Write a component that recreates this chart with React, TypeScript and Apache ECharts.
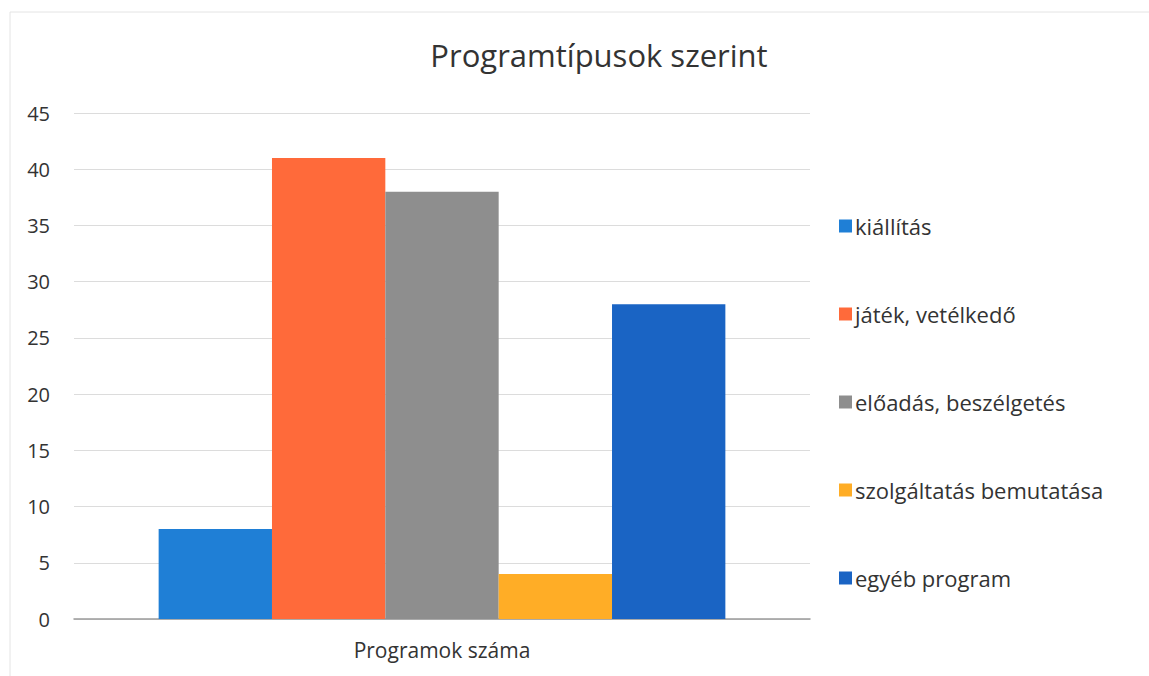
import React, { useEffect, useRef } from "react";
import * as echarts from "echarts";

const categories = ["Programok száma"];
const seriesNames = ["kiállítás", "játék, vetélkedő", "előadás, beszélgetés", "szolgáltatás bemutatása", "egyéb program"];
const seriesValues = [8, 41, 38, 4, 28];
const seriesColors = ["#1f7fd6", "#ff6a3a", "#8e8e8e", "#ffad26", "#1a64c4"];
const yTicks = { min: 0, max: 45, interval: 5 };

export default function App() {
  const ref = useRef<HTMLDivElement>(null);
  useEffect(() => {
    document.body.style.margin = "0";
    const chart = echarts.init(ref.current!, null, { renderer: "svg" });
    const font = "'Open Sans', 'Noto Sans', sans-serif";
    chart.setOption({
      animation: false,
      backgroundColor: "#ffffff",
      title: {
        text: "Programtípusok szerint",
        left: 594,
        top: 34,
        textAlign: "center",
        textStyle: { fontFamily: font, fontSize: 31, fontWeight: "normal", color: "#333333" },
      },
      graphic: [
        {
          type: "rect",
          shape: { x: 10, y: 12, width: 1150, height: 680 },
          style: { fill: "none", stroke: "#e4e4e4", lineWidth: 1 },
          silent: true,
        },
      ],
      legend: {
        orient: "vertical",
        left: 834,
        top: 210,
        itemWidth: 13,
        itemHeight: 13,
        itemGap: 66,
        icon: "rect",
        textStyle: { fontFamily: font, fontSize: 22, color: "#333333", padding: [0, 0, 0, -2] },
        data: seriesNames,
      },
      grid: { left: 74, right: 339, top: 113, bottom: 57, containLabel: false },
      xAxis: {
        type: "category",
        data: categories,
        axisTick: { show: false },
        axisLine: { lineStyle: { color: "#9a9a9a", width: 1.5 } },
        axisLabel: { fontFamily: font, fontSize: 21, color: "#333333", margin: 20 },
      },
      yAxis: {
        type: "value",
        min: yTicks.min,
        max: yTicks.max,
        interval: yTicks.interval,
        axisLine: { show: false },
        axisTick: { show: false },
        splitLine: { lineStyle: { color: "#dcdcdc" } },
        axisLabel: { fontFamily: font, fontSize: 20, color: "#333333", margin: 24 },
      },
      series: seriesNames.map((name, i) => ({
        name,
        type: "bar",
        data: [seriesValues[i]],
        barGap: "0%",
        barCategoryGap: "23%",
        itemStyle: { color: seriesColors[i] },
      })),
    });
    return () => chart.dispose();
  }, []);
  return <div ref={ref} style={{ width: 1149, height: 676 }} />;
}
